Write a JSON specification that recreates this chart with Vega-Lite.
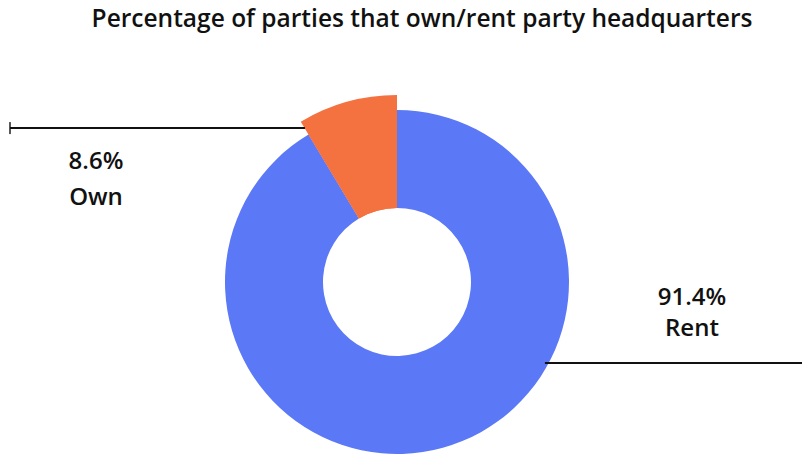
{
  "$schema": "https://vega.github.io/schema/vega-lite/v6.json",
  "autosize": {"type": "none"},
  "width": 802,
  "height": 410,
  "padding": {"top": 45, "left": 0, "right": 0, "bottom": 0},
  "background": "white",
  "config": {"view": {"stroke": null}},
  "title": {
    "text": "Percentage of parties that own/rent party headquarters",
    "font": "Open Sans",
    "fontSize": 24.5,
    "fontWeight": 600,
    "color": "#111111",
    "anchor": "middle",
    "baseline": "alphabetic",
    "offset": -6,
    "dx": 21
  },
  "datasets": {
    "slices": [
      {"category": "Rent", "share": 0.914, "rank": 1},
      {"category": "Own", "share": 0.086, "rank": 2}
    ],
    "labels": [
      {"category": "Own", "share": 0.086, "lx": -1.75, "py": 0.698, "ny": 0.491},
      {"category": "Rent", "share": 0.914, "lx": 1.715, "py": -0.095, "ny": -0.275}
    ],
    "leaders": [
      {"category": "Own", "x1": -2.25, "x2": -0.535, "y": 0.895},
      {"category": "Rent", "x1": 0.86, "x2": 2.355, "y": -0.471}
    ]
  },
  "layer": [
    {
      "data": {"name": "slices"},
      "mark": {"type": "arc", "outerRadius": 172, "innerRadius": 74},
      "encoding": {
        "x": {"datum": 0, "type": "quantitative", "scale": {"domain": [-2.3081, 2.3547], "nice": false, "zero": false}, "axis": null},
        "y": {"datum": 0, "type": "quantitative", "scale": {"domain": [-1.0058, 1.3779], "nice": false, "zero": false}, "axis": null},
        "theta": {"field": "share", "type": "quantitative", "stack": true},
        "order": {"field": "rank", "type": "quantitative"},
        "color": {"field": "category", "type": "nominal", "scale": {"domain": ["Rent", "Own"], "range": ["#5B78F6", "#F47140"]}, "legend": null}
      }
    },
    {
      "data": {"name": "slices"},
      "mark": {"type": "arc", "outerRadius": 187, "innerRadius": 74},
      "encoding": {
        "x": {"datum": 0, "type": "quantitative"},
        "y": {"datum": 0, "type": "quantitative"},
        "theta": {"field": "share", "type": "quantitative", "stack": true},
        "order": {"field": "rank", "type": "quantitative"},
        "color": {"field": "category", "type": "nominal", "legend": null},
        "opacity": {"field": "category", "type": "nominal", "scale": {"domain": ["Rent", "Own"], "range": [0, 1]}, "legend": null}
      }
    },
    {
      "data": {"name": "leaders"},
      "mark": {"type": "rule", "color": "#111111", "strokeWidth": 2},
      "encoding": {
        "x": {"field": "x1", "type": "quantitative"},
        "x2": {"field": "x2"},
        "y": {"field": "y", "type": "quantitative"}
      }
    },
    {
      "data": {"name": "leaders"},
      "transform": [{"filter": "datum.category === 'Own'"}],
      "mark": {"type": "tick", "orient": "vertical", "color": "#111111", "size": 12, "thickness": 2},
      "encoding": {
        "x": {"field": "x1", "type": "quantitative"},
        "y": {"field": "y", "type": "quantitative"}
      }
    },
    {
      "data": {"name": "labels"},
      "mark": {"type": "text", "font": "Open Sans", "fontSize": 24, "fontWeight": 600, "color": "#111111", "align": "center", "baseline": "middle"},
      "encoding": {
        "x": {"field": "lx", "type": "quantitative"},
        "y": {"field": "py", "type": "quantitative"},
        "text": {"field": "share", "type": "quantitative", "format": ".1%"}
      }
    },
    {
      "data": {"name": "labels"},
      "mark": {"type": "text", "font": "Open Sans", "fontSize": 24, "fontWeight": 600, "color": "#111111", "align": "center", "baseline": "middle"},
      "encoding": {
        "x": {"field": "lx", "type": "quantitative"},
        "y": {"field": "ny", "type": "quantitative"},
        "text": {"field": "category", "type": "nominal"}
      }
    }
  ]
}
